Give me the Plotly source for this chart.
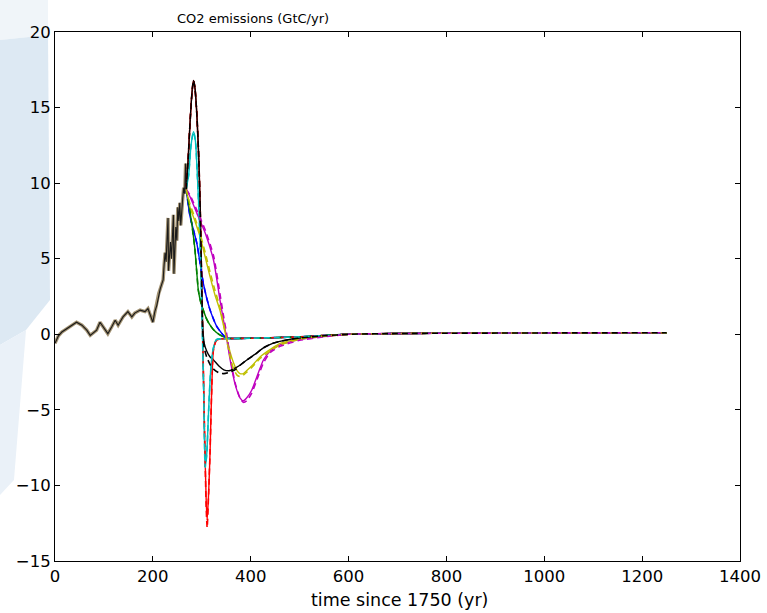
import plotly.graph_objects as go

# ---------------- data ----------------
hist_t = [0, 3, 7, 14, 20, 31, 44, 55, 65, 72, 85, 92, 98, 108, 116, 123, 129, 139, 149, 157,
          163, 174, 184, 190, 200, 204, 208, 212, 215, 218, 221, 223, 225, 227, 229, 231, 232,
          234, 236, 238, 240, 242, 243, 245, 247, 249, 251, 253, 255, 257, 259, 261, 263, 265,
          267, 268]
hist_v = [-0.6, -0.4, -0.1, 0.15, 0.27, 0.5, 0.8, 0.6, 0.27, -0.07, 0.27, 0.8, 0.5, 0.04, 0.5,
          0.93, 0.6, 1.15, 1.5, 1.15, 1.4, 1.6, 1.5, 1.7, 0.8, 1.5, 1.9, 2.7, 3.0, 3.3, 3.6, 4.6,
          5.4, 4.8, 6.2, 7.7, 4.2, 5.5, 6.1, 5.0, 6.8, 7.9, 4.0, 6.5, 7.1, 6.2, 8.4, 7.5, 8.7,
          7.2, 8.5, 9.0, 9.7, 9.3, 11.3, 9.6]

tail_t = [360, 400, 450, 500, 550, 600, 700, 800, 1000, 1250]
tail_v = [-0.28, -0.26, -0.22, -0.17, -0.08, 0.0, 0.05, 0.07, 0.09, 0.1]

blue_t = [268, 276, 283, 290, 297, 303, 310, 317, 324, 331, 340, 350]
blue_v = [9.6, 7.8, 6.9, 6.0, 4.6, 3.4, 2.4, 1.6, 1.0, 0.5, 0.1, -0.25]

green_t = [268, 274, 280, 286, 290, 293, 298, 303, 310, 317, 324, 335, 350]
green_v = [9.6, 8.5, 7.2, 5.6, 4.0, 2.9, 2.1, 1.6, 1.0, 0.6, 0.3, 0.0, -0.25]

red_t = [268, 272, 276, 280, 283, 286, 290, 294, 297, 300, 303, 306, 309, 311, 314, 317, 320,
         324, 330, 340, 350]
red_v = [9.6, 11.5, 14.0, 16.0, 16.8, 16.3, 14.5, 11.5, 8.0, 3.0, -2.0, -7.0, -11.0, -12.3,
         -10.5, -7.7, -4.0, -1.0, -0.4, -0.3, -0.28]
red_dash_v = [9.6, 11.5, 14.0, 16.0, 16.8, 16.3, 14.5, 11.5, 8.0, 3.0, -2.0, -7.0, -11.5, -12.8,
              -10.5, -7.7, -4.0, -1.0, -0.4, -0.3, -0.28]

cyan_t = [268, 273, 278, 283, 287, 291, 295, 298, 301, 304, 307, 310, 314, 318, 323, 330, 340,
          350]
cyan_v = [9.6, 10.5, 12.5, 13.4, 12.8, 10.5, 7.5, 4.5, 0.5, -4.0, -8.8, -8.0, -5.0, -2.5, -1.0,
          -0.35, -0.3, -0.28]

mag_t = [268, 276, 290, 307, 324, 337, 345, 351, 358, 368, 378, 385, 392, 402, 415, 426, 440,
         460, 500, 550]
mag_v = [9.6, 9.1, 8.0, 6.7, 4.9, 2.3, 0.8, -0.3, -1.7, -3.3, -4.2, -4.4, -4.2, -3.7, -2.6,
         -1.7, -1.1, -0.7, -0.35, -0.15]
mag_dash_v = [9.6, 9.2, 8.2, 6.9, 5.2, 2.7, 1.1, 0.0, -1.5, -3.2, -4.2, -4.5, -4.4, -3.9, -2.8,
              -1.9, -1.2, -0.8, -0.4, -0.17]

yel_t = [268, 276, 287, 297, 307, 317, 327, 337, 345, 351, 358, 365, 372, 378, 385, 392, 405,
         419, 440, 460, 500, 550]
yel_v = [9.6, 8.4, 7.4, 6.4, 5.1, 3.8, 2.6, 1.6, 0.5, -0.3, -1.2, -1.9, -2.4, -2.6, -2.6, -2.4,
         -2.0, -1.5, -1.0, -0.6, -0.3, -0.12]
yel_dash_v = [9.6, 8.6, 7.6, 6.6, 5.4, 4.1, 2.9, 1.8, 0.6, -0.4, -1.5, -2.3, -2.7, -2.8, -2.7,
              -2.5, -2.1, -1.6, -1.1, -0.7, -0.32, -0.13]

blk_t = [268, 272, 276, 280, 283, 286, 290, 294, 297, 300, 302, 305, 310, 317, 324, 335, 345,
         358, 370, 380, 392, 410, 426, 445, 470, 500, 550]
blk_v = [9.6, 11.5, 14.0, 16.0, 16.8, 16.3, 14.5, 11.5, 8.0, 3.0, 0.5, -0.6, -1.1, -1.5, -1.7,
         -2.1, -2.35, -2.4, -2.2, -2.0, -1.7, -1.3, -0.9, -0.6, -0.4, -0.25, -0.1]
blk_dash_v = [9.6, 11.5, 14.0, 16.0, 16.8, 16.3, 14.5, 11.5, 8.0, 3.0, 0.2, -0.9, -1.5, -2.0,
              -2.3, -2.55, -2.6, -2.5, -2.3, -2.0, -1.7, -1.3, -0.9, -0.6, -0.4, -0.25, -0.1]

title_text = "CO2 emissions (GtC/yr)"
xlabel_text = "time since 1750 (yr)"

# ---------------- figure ----------------
W, H = 767, 613
ML, MR, MT, MB = 55, 27, 32, 52
PW, PH = W - ML - MR, H - MT - MB


def px(x):
    return (x - ML) / PW


def py(y):
    return (H - MB - y) / PH


fig = go.Figure()


def full(ts, vs, tt, tv):
    start = 0
    while start < len(tt) and tt[start] <= ts[-1]:
        start += 1
    return ts + tt[start:], vs + tv[start:]


colors = {"b": "#0000ff", "g": "#008000", "r": "#ff0000", "c": "#00bfbf",
          "m": "#bf00bf", "y": "#bfbf00", "k": "#000000"}

scen = [
    ("b", blue_t, blue_v, blue_v),
    ("g", green_t, green_v, green_v),
    ("r", red_t, red_v, red_dash_v),
    ("c", cyan_t, cyan_v, cyan_v),
    ("m", mag_t, mag_v, mag_dash_v),
    ("y", yel_t, yel_v, yel_dash_v),
    ("k", blk_t, blk_v, blk_dash_v),
]

# history: tan halo + black core
fig.add_trace(go.Scatter(x=hist_t, y=hist_v, mode="lines",
                         line=dict(color="#a39373", width=3.4), hoverinfo="skip"))

for key, ts, vs, _ in scen:
    x, y = full(ts, vs, tail_t, tail_v)
    fig.add_trace(go.Scatter(x=x, y=y, mode="lines",
                             line=dict(color=colors[key], width=1.4, shape="spline", smoothing=0.6),
                             hoverinfo="skip"))

fig.add_trace(go.Scatter(x=hist_t, y=hist_v, mode="lines",
                         line=dict(color="#1a1a1a", width=1.1), hoverinfo="skip"))

for key, ts, _, vd in scen:
    x, y = full(ts, vd, tail_t, tail_v)
    fig.add_trace(go.Scatter(x=x, y=y, mode="lines",
                             line=dict(color=colors[key], width=1.6, dash="6px,4px",
                                       shape="spline", smoothing=0.6),
                             hoverinfo="skip"))

# decorative light-blue background on the left edge
def poly(pts):
    s = "M " + " L ".join(f"{px(a):.4f},{py(b):.4f}" for a, b in pts) + " Z"
    return s


shapes = [
    dict(type="path", xref="paper", yref="paper", layer="below", line=dict(width=0),
         fillcolor="#f0f5f9", path=poly([(0, 0), (48, 0), (48, 35), (0, 40)])),
    dict(type="path", xref="paper", yref="paper", layer="below", line=dict(width=0),
         fillcolor="#dde9f3", path=poly([(0, 40), (48, 35), (50, 300), (26, 330), (0, 345)])),
    dict(type="path", xref="paper", yref="paper", layer="below", line=dict(width=0),
         fillcolor="#eaf1f8", path=poly([(0, 345), (26, 330), (14, 480), (0, 495)])),
]

fig.update_layout(
    width=W, height=H, margin=dict(l=ML, r=MR, t=MT, b=MB, autoexpand=False),
    paper_bgcolor="white", plot_bgcolor="white", showlegend=False,
    font=dict(family="DejaVu Sans", size=16, color="#000000"),
    shapes=shapes,
    annotations=[
        dict(text=title_text, xref="paper", yref="paper", x=px(175), y=py(19),
             xanchor="left", yanchor="middle", showarrow=False,
             font=dict(family="DejaVu Sans", size=13, color="#000000")),
        dict(text=xlabel_text, xref="paper", yref="paper", x=px(399), y=py(600),
             xanchor="center", yanchor="middle", showarrow=False,
             font=dict(family="DejaVu Sans", size=17.5, color="#000000")),
    ],
)

axis_common = dict(showgrid=False, zeroline=False, showline=True, linecolor="#000000",
                   linewidth=1, mirror="allticks", ticks="inside", ticklen=5,
                   tickcolor="#000000", tickfont=dict(family="DejaVu Sans", size=16.5),
                   automargin=False)
fig.update_xaxes(range=[0, 1400], tickvals=[0, 200, 400, 600, 800, 1000, 1200, 1400],
                 **axis_common)
fig.update_yaxes(range=[-15, 20], tickvals=[-15, -10, -5, 0, 5, 10, 15, 20], **axis_common)

fig.write_html("out.html")
